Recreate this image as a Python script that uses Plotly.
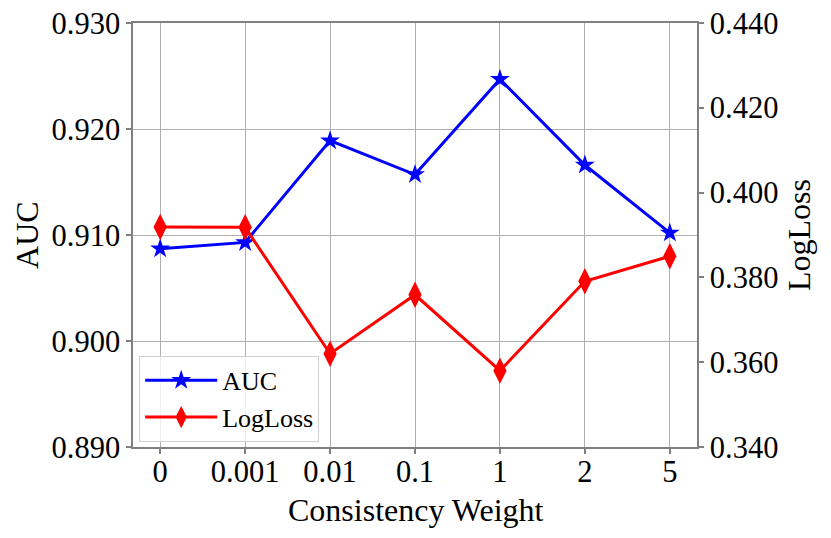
import plotly.graph_objects as go

categories = ["0", "0.001", "0.01", "0.1", "1", "2", "5"]
auc = [0.9087, 0.9093, 0.9189, 0.9157, 0.9247, 0.9166, 0.9102]
logloss = [0.3919, 0.3918, 0.3620, 0.3759, 0.3580, 0.3791, 0.3850]
auc_ticks = [0.890, 0.900, 0.910, 0.920, 0.930]
ll_ticks = [0.340, 0.360, 0.380, 0.400, 0.420, 0.440]

FONT = "Liberation Serif, Times New Roman, serif"
SPINE = "#808080"
GRID = "#b0b0b0"
TICK_SIZE = 30.5

fig = go.Figure()
fig.add_trace(go.Scatter(
    x=categories, y=auc, name="AUC", mode="lines+markers",
    line=dict(color="#0000ff", width=3),
    marker=dict(symbol="star", size=15, color="#0000ff"),
    yaxis="y",
))
fig.add_trace(go.Scatter(
    x=categories, y=logloss, name="LogLoss", mode="lines+markers",
    line=dict(color="#ff0000", width=3),
    marker=dict(symbol="diamond-tall", size=19, color="#ff0000"),
    yaxis="y2",
))

fig.update_layout(
    width=831, height=538,
    margin=dict(l=133, r=134, t=23, b=91),
    paper_bgcolor="white", plot_bgcolor="white",
    font=dict(family=FONT, size=32, color="black"),
    showlegend=True,
    legend=dict(
        x=0.011, y=0.012, xanchor="left", yanchor="bottom",
        bgcolor="rgba(255,255,255,0.8)", bordercolor="#d0d0d0", borderwidth=1,
        font=dict(family=FONT, size=26, color="black"),
        itemwidth=72, tracegroupgap=0,
    ),
    xaxis=dict(
        type="category", range=[-0.32, 6.32], automargin=False,
        showgrid=True, gridcolor=GRID, gridwidth=1,
        showline=True, linecolor=SPINE, linewidth=1.5, mirror=True,
        ticks="outside", ticklen=5, tickcolor=SPINE, tickwidth=1.5,
        tickfont=dict(family=FONT, size=TICK_SIZE, color="black"),
        ticklabelstandoff=-8,
        zeroline=False,
    ),
    yaxis=dict(
        range=[0.890, 0.930], tickvals=auc_ticks, tickformat=".3f", automargin=False,
        showgrid=True, gridcolor=GRID, gridwidth=1,
        showline=True, linecolor=SPINE, linewidth=1.5, mirror=True,
        ticks="outside", ticklen=5, tickcolor=SPINE, tickwidth=1.5,
        tickfont=dict(family=FONT, size=TICK_SIZE, color="black"),
        zeroline=False,
    ),
    yaxis2=dict(
        range=[0.340, 0.440], tickvals=ll_ticks, tickformat=".3f", automargin=False,
        overlaying="y", side="right", showgrid=False,
        showline=True, linecolor=SPINE, linewidth=1.5,
        ticks="outside", ticklen=5, tickcolor=SPINE, tickwidth=1.5,
        tickfont=dict(family=FONT, size=TICK_SIZE, color="black"),
        zeroline=False,
    ),
    annotations=[
        dict(text="Consistency Weight", xref="paper", yref="paper", x=0.502, y=-0.148,
             xanchor="center", yanchor="middle", showarrow=False,
             font=dict(family=FONT, size=32, color="black")),
        dict(text="AUC", xref="paper", yref="paper", x=-0.188, y=0.5, textangle=-90,
             xanchor="center", yanchor="middle", showarrow=False,
             font=dict(family=FONT, size=32, color="black")),
        dict(text="LogLoss", xref="paper", yref="paper", x=1.181, y=0.5, textangle=-90,
             xanchor="center", yanchor="middle", showarrow=False,
             font=dict(family=FONT, size=32, color="black")),
    ],
)

fig.write_html("out.html", config={"displayModeBar": False},
               post_script="document.body.style.margin='0';")
